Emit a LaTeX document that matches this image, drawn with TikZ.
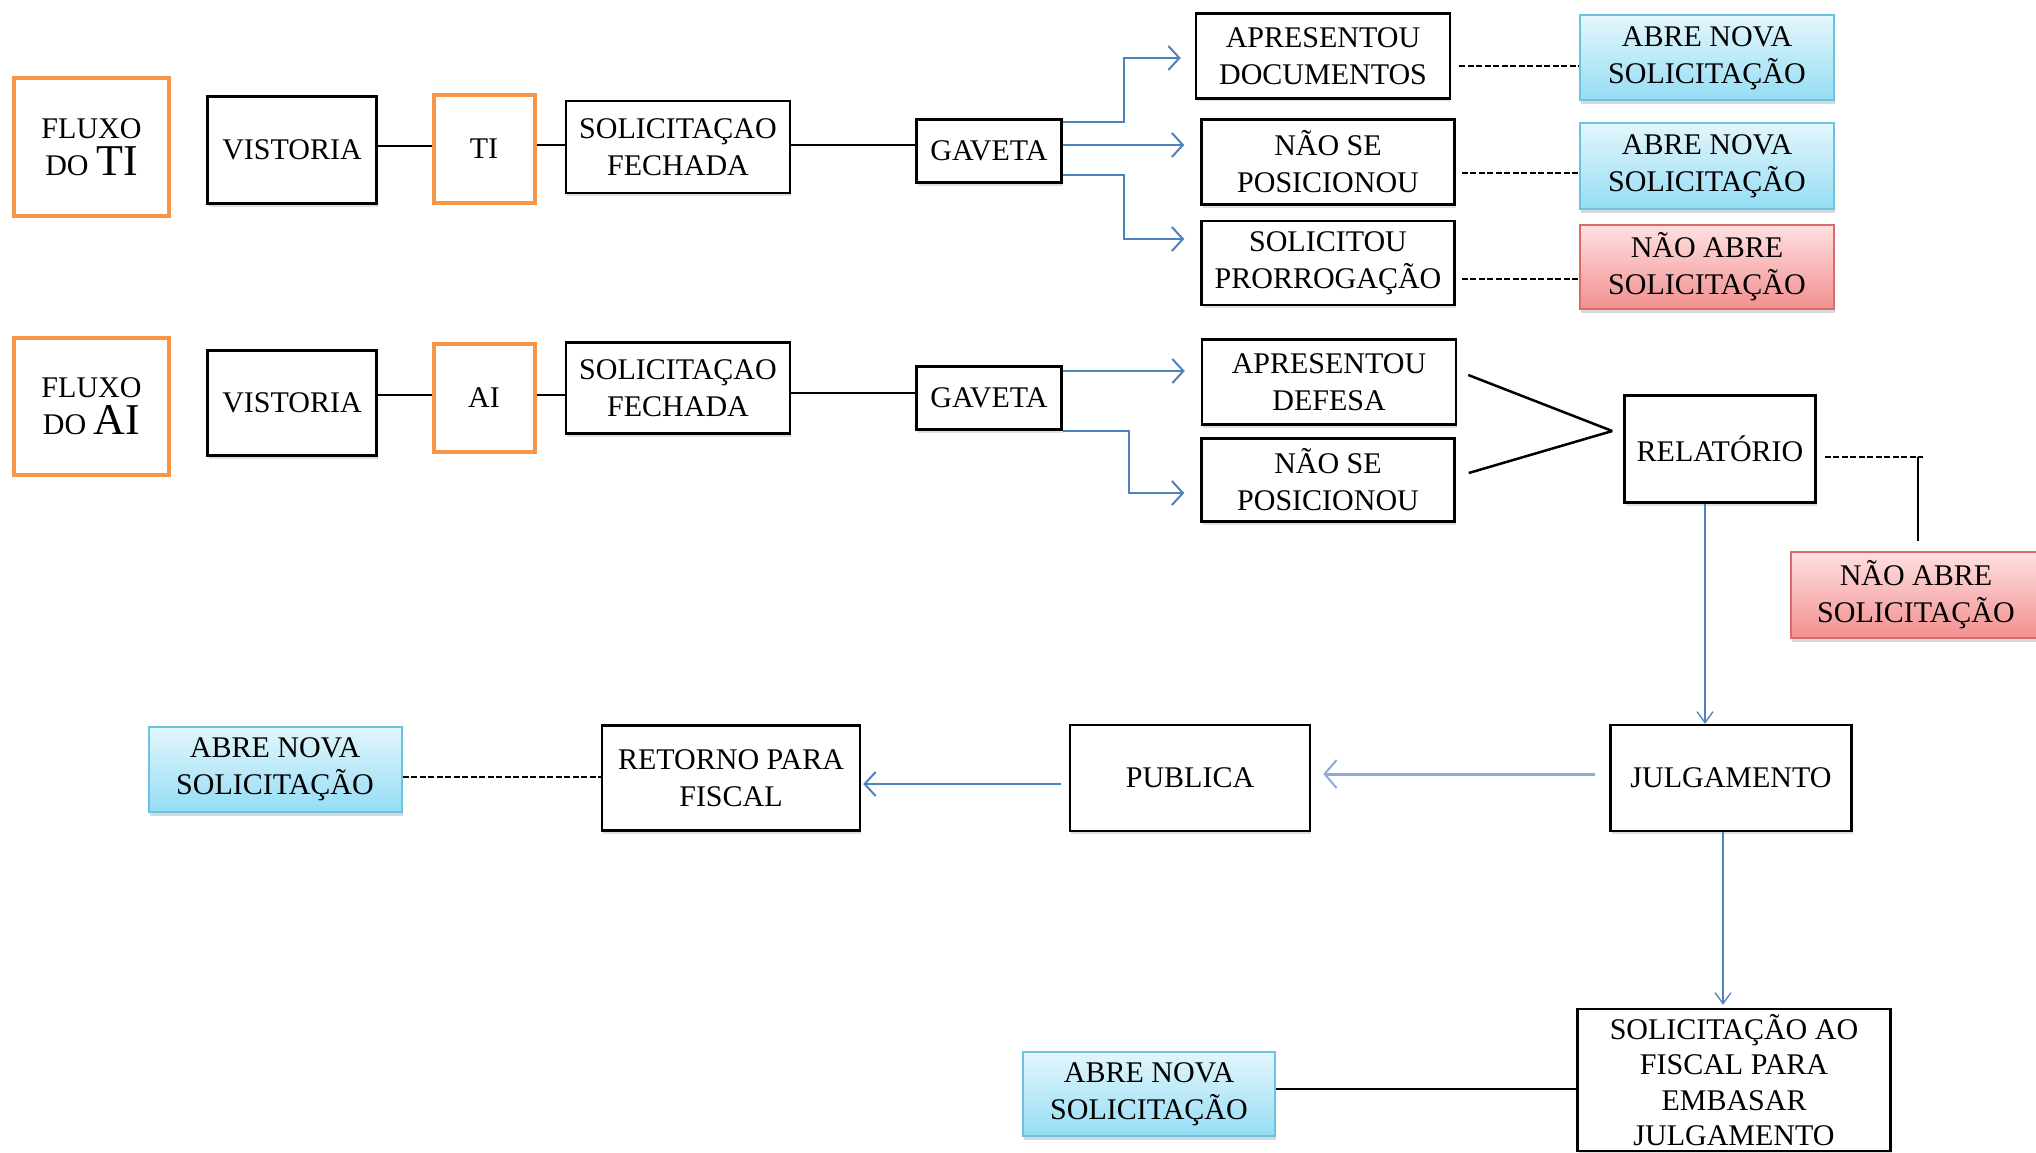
\documentclass[tikz,border=0pt]{standalone}
\usepackage{fontspec}
\setmainfont{Liberation Serif}
\usetikzlibrary{arrows.meta,shadows}
\newcommand\myfs{\fontsize{30}{37}\selectfont}
\newcommand\mybig{\fontsize{44}{44}\selectfont}
\definecolor{orangeb}{HTML}{F79646}
\definecolor{blueb}{HTML}{6CC3E0}
\definecolor{bluetop}{HTML}{E3F6FC}
\definecolor{bluebot}{HTML}{95DDF5}
\definecolor{redb}{HTML}{D96B6B}
\definecolor{redtop}{HTML}{FFE0E0}
\definecolor{redbot}{HTML}{F29090}
\definecolor{arrblue}{HTML}{4F81BD}
\definecolor{arrlight}{HTML}{8EAADB}
\tikzset{
  base/.style={align=center, inner sep=0pt, font=\myfs, text=black},
  box/.style={base, draw=black, line width=2.5pt, fill=white,
    drop shadow={opacity=0.25, shadow xshift=1pt, shadow yshift=-3pt}},
  obox/.style={base, draw=orangeb, line width=4pt, fill=white},
  bluebox/.style={base, draw=blueb, line width=2pt, top color=bluetop, bottom color=bluebot,
    drop shadow={opacity=0.3, shadow xshift=1pt, shadow yshift=-4pt}},
  redbox/.style={base, draw=redb, line width=2pt, top color=redtop, bottom color=redbot,
    drop shadow={opacity=0.3, shadow xshift=1pt, shadow yshift=-4pt}},
  conn/.style={draw=black, line width=2.5pt},
  dashconn/.style={draw=black, line width=1.6pt, dash pattern=on 6pt off 2.5pt},
  barrow/.style={draw=arrblue, line width=2pt, -{Straight Barb[length=11pt,width=24pt,line width=2pt]}},
  thinarrow/.style={draw=arrblue, line width=1.3pt, -{Straight Barb[length=11pt,width=16pt,line width=1.3pt]}},
  lightarrow/.style={draw=arrlight, line width=3pt, -{Straight Barb[length=12pt,width=28pt,line width=2pt]}},
}
\begin{document}
\begin{tikzpicture}[x=1pt,y=-1pt]
\useasboundingbox[fill=white] (0,0) rectangle (2036,1153);
% row TI
\node[obox, minimum width=155pt, minimum height=138pt] (fluxoTI) at (91.5,147) {FLUXO\\DO {\mybig TI}};
\node[box, minimum width=169pt, minimum height=107pt] (vist1) at (292,150) {VISTORIA};
\node[obox, minimum width=101pt, minimum height=108pt] (ti) at (484,149) {TI};
\node[box, minimum width=224pt, minimum height=92pt] (sol1) at (678,147) {SOLICITAÇAO\\FECHADA};
\node[box, minimum width=145pt, minimum height=63pt] (gav1) at (989,151) {GAVETA};
\node[box, minimum width=254pt, minimum height=85pt] (docs) at (1323,56) {APRESENTOU\\DOCUMENTOS};
\node[box, minimum width=253pt, minimum height=85pt] (nao1) at (1328,162) {NÃO SE\\POSICIONOU};
\node[box, minimum width=253pt, minimum height=84pt] (prorrog) at (1328,263) {SOLICITOU\\PRORROGAÇÃO};
\node[bluebox, minimum width=254pt, minimum height=85pt] (abre1) at (1707,58) {ABRE NOVA\\SOLICITAÇÃO};
\node[bluebox, minimum width=254pt, minimum height=85pt] (abre2) at (1707,166) {ABRE NOVA\\SOLICITAÇÃO};
\node[redbox, minimum width=254pt, minimum height=84pt] (naoabre1) at (1707,267) {NÃO ABRE\\SOLICITAÇÃO};
% row AI
\node[obox, minimum width=155pt, minimum height=137pt] (fluxoAI) at (91.5,406) {FLUXO\\DO {\mybig AI}};
\node[box, minimum width=169pt, minimum height=105pt] (vist2) at (292,403) {VISTORIA};
\node[obox, minimum width=101pt, minimum height=108pt] (ai) at (484,398) {AI};
\node[box, minimum width=224pt, minimum height=91pt] (sol2) at (678,388) {SOLICITAÇAO\\FECHADA};
\node[box, minimum width=145pt, minimum height=63pt] (gav2) at (989,398) {GAVETA};
\node[box, minimum width=254pt, minimum height=85pt] (defesa) at (1329,382) {APRESENTOU\\DEFESA};
\node[box, minimum width=253pt, minimum height=83pt] (nao2) at (1328,480) {NÃO SE\\POSICIONOU};
\node[box, minimum width=191pt, minimum height=107pt] (relat) at (1720,449) {RELATÓRIO};
\node[redbox, minimum width=250pt, minimum height=86pt] (naoabre2) at (1916,595) {NÃO ABRE\\SOLICITAÇÃO};
% bottom
\node[box, minimum width=241pt, minimum height=106pt] (julg) at (1731,778) {JULGAMENTO};
\node[box, minimum width=240pt, minimum height=106pt] (publica) at (1190,778) {PUBLICA};
\node[box, minimum width=258pt, minimum height=105pt] (retorno) at (731,778) {RETORNO PARA\\FISCAL};
\node[bluebox, minimum width=253pt, minimum height=85pt] (abre3) at (275,769) {ABRE NOVA\\SOLICITAÇÃO};
\node[box, minimum width=313pt, minimum height=142pt, font=\fontsize{30}{35.5}\selectfont] (solfis) at (1734,1080) {SOLICITAÇÃO AO\\FISCAL PARA\\EMBASAR\\JULGAMENTO};
\node[bluebox, minimum width=252pt, minimum height=84pt] (abre4) at (1149,1094) {ABRE NOVA\\SOLICITAÇÃO};

% connectors row TI
\draw[conn] ([yshift=4pt]vist1.east) -- ([yshift=4pt]vist1.east -| ti.west);
\draw[conn] ([yshift=4pt]ti.east) -- ([yshift=4pt]ti.east -| sol1.west);
\draw[conn] ([yshift=2pt]sol1.east) -- ([yshift=2pt]sol1.east -| gav1.west);
\draw[barrow, shorten >=14pt] ([yshift=29pt]gav1.east) -- ++(61,0) |- ([yshift=-2pt]docs.west);
\draw[barrow, shorten >=16pt] ([yshift=6pt]gav1.east) -- ([yshift=6pt]gav1.east -| nao1.west);
\draw[barrow, shorten >=16pt] ([yshift=-24pt]gav1.east) -- ++(61,0) |- ([yshift=24pt]prorrog.west);
\draw[dashconn] ([xshift=8pt,yshift=-10pt]docs.east) -- ([yshift=-8pt]abre1.west);
\draw[dashconn] ([xshift=6pt,yshift=-11pt]nao1.east) -- ([yshift=-7pt]abre2.west);
\draw[dashconn] ([xshift=6pt,yshift=-16pt]prorrog.east) -- ([yshift=-12pt]naoabre1.west);
% connectors row AI
\draw[conn] ([yshift=3pt]ai.west -| vist2.east) -- ([yshift=3pt]ai.west);
\draw[conn] ([yshift=3pt]ai.east) -- ([yshift=3pt]ai.east -| sol2.west);
\draw[conn] ([yshift=-5pt]sol2.east) -- ([yshift=-5pt]sol2.east -| gav2.west);
\draw[barrow, shorten >=16pt] ([yshift=27pt]gav2.east) -- ([yshift=27pt]gav2.east -| defesa.west);
\draw[barrow, shorten >=16pt] (gav2.south east) -- ++(66,0) |- ([yshift=-13pt]nao2.west);
\coordinate (tip) at ([xshift=-11pt,yshift=18pt]relat.west);
\draw[conn] ([xshift=11pt,yshift=7pt]defesa.east) -- (tip);
\draw[conn] ([xshift=13pt,yshift=7pt]nao2.east) -- (tip);
\coordinate (rj) at (1918,457);
\draw[dashconn] ([xshift=8pt,yshift=-8pt]relat.east) -- ([xshift=5pt]rj);
\draw[conn] (rj) -- (rj |- {(0,541)});
\draw[thinarrow] ([xshift=-15pt]relat.south) -- ([xshift=-15pt]relat.south |- julg.north);
% bottom connectors
\draw[lightarrow, shorten <=14pt, shorten >=12pt] ([yshift=4pt]julg.west) -- ([yshift=4pt]julg.west -| publica.east);
\draw[barrow, line width=2.5pt, shorten <=8pt, shorten >=2pt] ([yshift=-6pt]publica.west) -- ([yshift=-6pt]publica.west -| retorno.east);
\draw[dashconn] ([yshift=-8pt]abre3.east) -- ([yshift=-8pt]abre3.east -| retorno.west);
\draw[thinarrow, shorten >=3pt] ([xshift=-8pt]julg.south) -- ([xshift=-8pt]julg.south |- solfis.north);
\draw[conn] ([yshift=5pt]abre4.east) -- ([yshift=5pt]abre4.east -| solfis.west);
\end{tikzpicture}
\end{document}
